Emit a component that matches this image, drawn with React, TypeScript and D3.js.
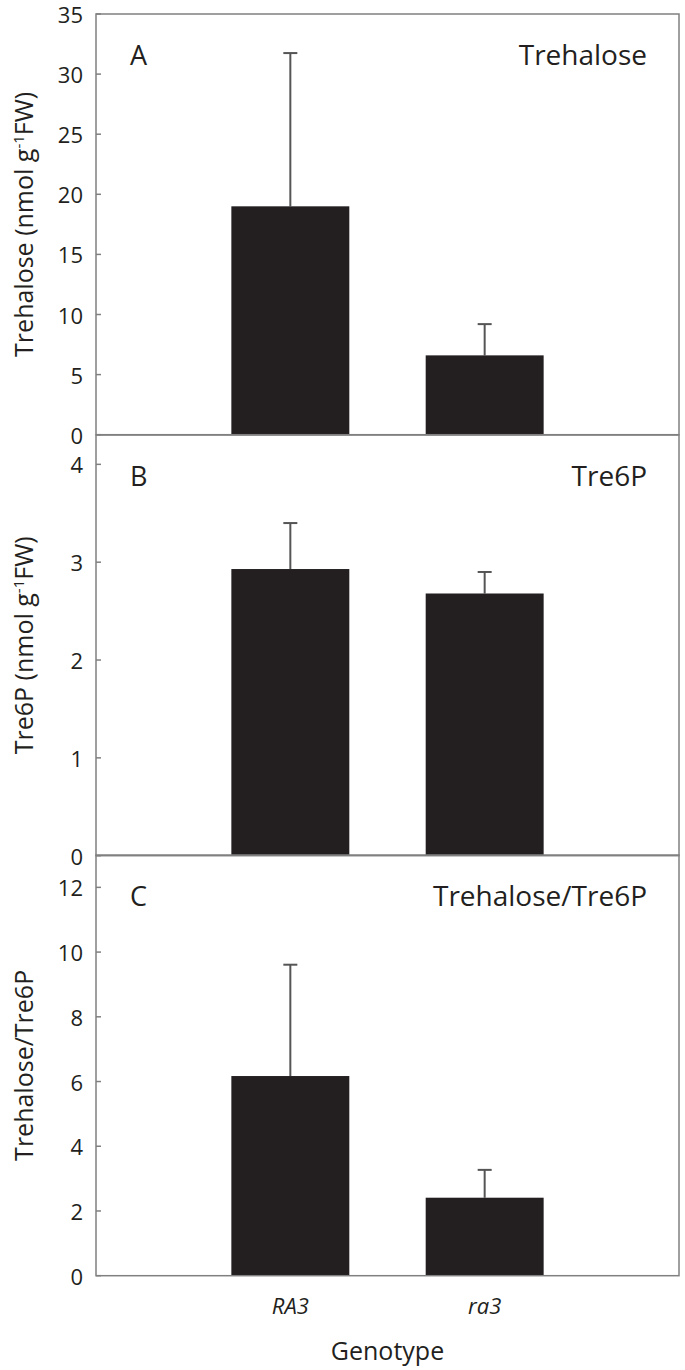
import React from "react";
import * as d3 from "d3";

const genotypes = ["RA3", "ra3"];
const trehalose = [19.0, 6.6];
const trehaloseErr = [12.75, 2.6];
const tre6p = [2.93, 2.68];
const tre6pErr = [0.47, 0.22];
const ratio = [6.17, 2.41];
const ratioErr = [3.44, 0.86];

const panelLetters = ["A", "B", "C"];
const panelTitles = ["Trehalose", "Tre6P", "Trehalose/Tre6P"];
const yMaxes = [35, 4.3, 13];
const yTicksA = [0, 5, 10, 15, 20, 25, 30, 35];
const yTicksB = [0, 1, 2, 3, 4];
const yTicksC = [0, 2, 4, 6, 8, 10, 12];

const W = 685;
const H = 1370;
const left = 96;
const right = 679;
const tops = [14, 435, 855];
const panelH = 420.7;
const font = "'Open Sans', 'DejaVu Sans', sans-serif";
const ink = "#231f20";
const frame = "#808080";

type Panel = {
  values: number[];
  errs: number[];
  ticks: number[];
  max: number;
  letter: string;
  title: string;
  ylabel: React.ReactNode;
};

export default function App() {
  const x = d3.scalePoint<string>().domain(genotypes).range([left, right]).padding(1);
  const step = x.step();
  const barW = step * 0.607;

  const panels: Panel[] = [
    {
      values: trehalose,
      errs: trehaloseErr,
      ticks: yTicksA,
      max: yMaxes[0],
      letter: panelLetters[0],
      title: panelTitles[0],
      ylabel: (
        <>
          Trehalose (nmol g<tspan dy={-9} fontSize={15}>-1</tspan>
          <tspan dy={9}>FW)</tspan>
        </>
      ),
    },
    {
      values: tre6p,
      errs: tre6pErr,
      ticks: yTicksB,
      max: yMaxes[1],
      letter: panelLetters[1],
      title: panelTitles[1],
      ylabel: (
        <>
          Tre6P (nmol g<tspan dy={-9} fontSize={15}>-1</tspan>
          <tspan dy={9}>FW)</tspan>
        </>
      ),
    },
    {
      values: ratio,
      errs: ratioErr,
      ticks: yTicksC,
      max: yMaxes[2],
      letter: panelLetters[2],
      title: panelTitles[2],
      ylabel: <>Trehalose/Tre6P</>,
    },
  ];

  return (
    <svg
      width={W}
      height={H}
      style={{ position: "absolute", left: 0, top: 0, background: "#fff" }}
      fontFamily={font}
    >
      {panels.map((p, i) => {
        const top = tops[i];
        const bottom = top + panelH;
        const y = d3.scaleLinear().domain([0, p.max]).range([bottom, top]);
        const midY = (top + bottom) / 2;
        return (
          <g key={i}>
            {p.values.map((v, j) => {
              const cx = x(genotypes[j])!;
              const yTop = y(v);
              const yErr = y(v + p.errs[j]);
              return (
                <g key={j}>
                  <line x1={cx} x2={cx} y1={yTop} y2={yErr} stroke="#555" strokeWidth={2} />
                  <line x1={cx - 7} x2={cx + 7} y1={yErr} y2={yErr} stroke="#555" strokeWidth={2} />
                  <rect x={cx - barW / 2} y={yTop} width={barW} height={bottom - yTop} fill={ink} />
                </g>
              );
            })}
            <rect
              x={left}
              y={top}
              width={right - left}
              height={panelH}
              fill="none"
              stroke={frame}
              strokeWidth={1.5}
            />
            {p.ticks.map((t) => (
              <g key={t}>
                <line x1={left} x2={left + 5} y1={y(t)} y2={y(t)} stroke={frame} strokeWidth={1.5} />
                <text
                  x={left - 13}
                  y={y(t)}
                  textAnchor="end"
                  dominantBaseline="central"
                  fontSize={22}
                  fill={ink}
                >
                  {t}
                </text>
              </g>
            ))}
            <text x={130} y={top + 51} fontSize={27} fill={ink}>
              {p.letter}
            </text>
            <text x={647} y={top + 51} textAnchor="end" fontSize={28} fill={ink}>
              {p.title}
            </text>
            <text
              transform={`translate(33,${midY}) rotate(-90)`}
              textAnchor="middle"
              fontSize={25}
              fill={ink}
            >
              {p.ylabel}
            </text>
          </g>
        );
      })}
      {genotypes.map((g) => (
        <text
          key={g}
          x={x(g)!}
          y={1314}
          textAnchor="middle"
          fontSize={22}
          fontStyle="italic"
          fill={ink}
        >
          {g}
        </text>
      ))}
      <text x={(left + right) / 2} y={1360} textAnchor="middle" fontSize={25} fill={ink}>
        Genotype
      </text>
    </svg>
  );
}
